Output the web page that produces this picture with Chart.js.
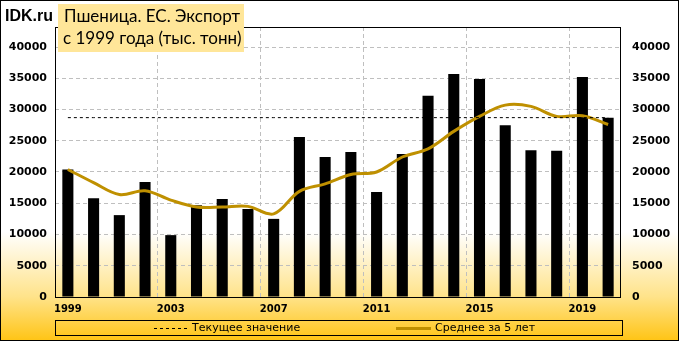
<!DOCTYPE html>
<html>
<head>
<meta charset="utf-8">
<script src="https://cdn.jsdelivr.net/npm/chart.js@4"></script>
<style>
  html, body { margin: 0; padding: 0; background: #fff; }
  #grafico { display: block; }
</style>
</head>
<body>
<canvas id="grafico" width="679" height="341"></canvas>
<script>
/* ***** Datos ***** */
const anios = ["1999", "2000", "2001", "2002", "2003", "2004", "2005", "2006", "2007", "2008", "2009",
               "2010", "2011", "2012", "2013", "2014", "2015", "2016", "2017", "2018", "2019", "2020"];
const exportacion = [20400, 15800, 13100, 18400, 9900, 14700, 15700, 14100, 12500, 25600, 22400,
                     23200, 16800, 22900, 32200, 35700, 34900, 27500, 23500, 23400, 35200, 28700];
const media5 = [20400, 18300, 16400, 17000, 15500, 14400, 14400, 14500, 13300, 16900, 18100,
                19600, 20000, 22400, 23700, 26500, 28900, 30700, 30500, 28900, 29000, 27600];
const valorActual = anios.map(() => 28700);
const etiquetasY = [0, 5000, 10000, 15000, 20000, 25000, 30000, 35000, 40000];

const titulo1 = "Пшеница. ЕС. Экспорт";
const titulo2 = "с 1999 года (тыс. тонн)";
const leyenda = ["Текущее значение", "Среднее за 5 лет"];

const colorMedia = "#BF9000";
const colorRejilla = "#BFBFBF";

/* ***** Fondo, marco, título y leyenda ***** */
const fondo = {
  id: "fondo",
  beforeDraw(chart) {
    const c = chart.ctx;
    const g = c.createLinearGradient(0, 0, 0, chart.height);
    g.addColorStop(0, "#FFFFFF");
    g.addColorStop(0.68, "#FFFFFF");
    g.addColorStop(0.87, "#FFE38A");
    g.addColorStop(1, "#FFC414");
    c.save();
    c.fillStyle = g;
    c.fillRect(0, 0, chart.width, chart.height);
    c.restore();
  },
  afterDraw(chart) {
    const c = chart.ctx;
    const a = chart.chartArea;
    c.save();
    // marco del area
    c.strokeStyle = "#000";
    c.lineWidth = 1;
    c.strokeRect(Math.round(a.left) + 0.5, Math.round(a.top) + 0.5,
                 Math.round(a.right - a.left) - 1, Math.round(a.bottom - a.top));
    // marco exterior
    c.strokeRect(0.5, 0.5, chart.width - 1, chart.height - 1);

    // IDK.ru
    c.fillStyle = "#000";
    c.font = "bold 16px 'Liberation Sans', Arial, sans-serif";
    c.textBaseline = "middle";
    c.textAlign = "left";
    c.fillText("IDK.ru", 5, 17);

    // titulo
    c.fillStyle = "#FFE699";
    c.fillRect(58, 4, 186, 48);
    c.fillStyle = "#000";
    c.font = "17px Lato, 'Open Sans', sans-serif";
    c.fillText(titulo1, 64, 17);
    c.fillText(titulo2, 63, 39);

    // leyenda
    c.strokeRect(55.5, 320.5, 567, 15);
    c.font = "11px 'DejaVu Sans', sans-serif";
    c.textBaseline = "middle";
    c.setLineDash([3, 3]);
    c.beginPath();
    c.moveTo(154, 328.5);
    c.lineTo(188, 328.5);
    c.stroke();
    c.setLineDash([]);
    c.fillText(leyenda[0], 192, 328);
    c.strokeStyle = colorMedia;
    c.lineWidth = 3;
    c.beginPath();
    c.moveTo(396, 328.5);
    c.lineTo(431, 328.5);
    c.stroke();
    c.fillText(leyenda[1], 435, 328);
    c.restore();
  }
};

/* ***** Grafico ***** */
const fuenteEje = { family: "'DejaVu Sans', sans-serif", size: 11, weight: "bold" };

function soloEtiquetasY(scale) {
  scale.ticks = etiquetasY.map(v => ({ value: v }));
}

const ctx = document.getElementById("grafico");
const myChart = new Chart(ctx, {
  data: {
    labels: anios,
    datasets: [
      {
        type: "line",
        label: leyenda[0],
        data: valorActual,
        borderColor: "#000",
        borderWidth: 1,
        borderDash: [3, 3],
        pointRadius: 0,
        fill: false,
        order: 0
      },
      {
        type: "line",
        label: leyenda[1],
        data: media5,
        borderColor: colorMedia,
        borderWidth: 3,
        pointRadius: 0,
        tension: 0.35,
        fill: false,
        order: 1
      },
      {
        type: "bar",
        label: "Экспорт",
        data: exportacion,
        backgroundColor: "#000",
        categoryPercentage: 1,
        barPercentage: 0.43,
        order: 2
      }
    ]
  },
  options: {
    responsive: false,
    animation: false,
    layout: { padding: { top: 27, left: 0, right: 0, bottom: 0 } },
    plugins: {
      legend: { display: false },
      tooltip: { enabled: false }
    },
    scales: {
      x: {
        offset: true,
        grid: {
          offset: true,
          drawTicks: false,
          color: c => (c.index > 0 && c.index % 4 === 0 && c.index < anios.length) ? colorRejilla : "rgba(0,0,0,0)"
        },
        border: { display: false, dash: [4, 3] },
        ticks: {
          autoSkip: false,
          maxRotation: 0,
          padding: 6,
          color: "#000",
          font: { family: "'DejaVu Sans', sans-serif", size: 10, weight: "bold" },
          callback: function (v, i) { return i % 4 === 0 ? anios[i] : ""; }
        },
        afterFit: s => { s.height = 44; }
      },
      y: {
        position: "left",
        min: 0,
        max: 43200,
        afterBuildTicks: soloEtiquetasY,
        grid: {
          drawTicks: false,
          color: c => (c.tick && c.tick.value > 0) ? colorRejilla : "rgba(0,0,0,0)"
        },
        border: { display: false, dash: [4, 3] },
        ticks: { padding: 8, color: "#000", font: fuenteEje, callback: v => String(v) },
        afterFit: s => { s.width = 55; }
      },
      y2: {
        position: "right",
        min: 0,
        max: 43200,
        afterBuildTicks: soloEtiquetasY,
        grid: { drawOnChartArea: false, drawTicks: false },
        border: { display: false },
        ticks: { padding: 11, color: "#000", font: fuenteEje, callback: v => String(v) },
        afterFit: s => { s.width = 58; }
      }
    }
  },
  plugins: [fondo]
});
</script>
</body>
</html>
